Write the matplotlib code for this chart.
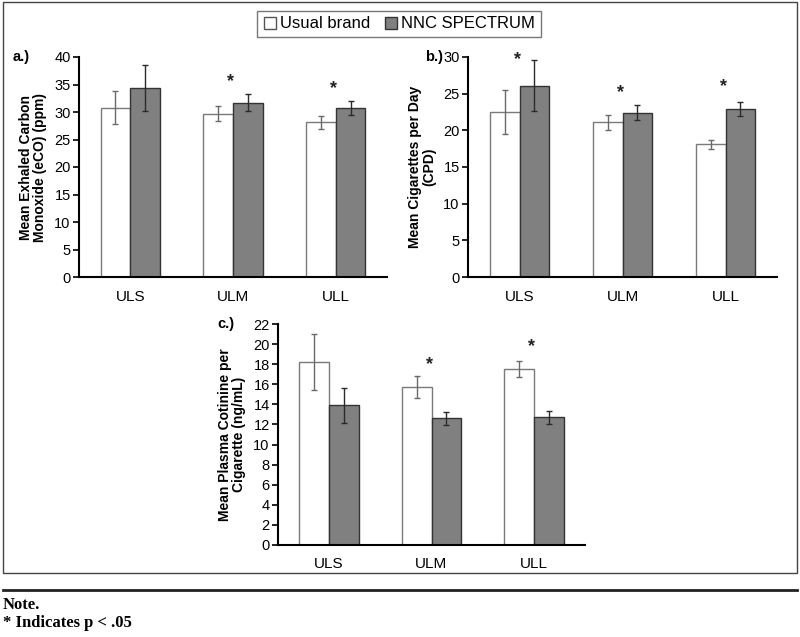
import matplotlib.pyplot as plt
import numpy as np
from matplotlib.patches import Rectangle
from matplotlib.lines import Line2D

plt.rcParams['font.family'] = ['Liberation Sans', 'DejaVu Sans']

groups = ['ULS', 'ULM', 'ULL']
series = ['Usual brand', 'NNC SPECTRUM']

# a.) exhaled carbon monoxide
eco_usual = [30.8, 29.7, 28.1]
eco_usual_err = [3.0, 1.4, 1.1]
eco_nnc = [34.4, 31.7, 30.7]
eco_nnc_err = [4.15, 1.5, 1.25]
eco_stars = [None, 35.6, 34.3]

# b.) cigarettes per day
cpd_usual = [22.5, 21.1, 18.1]
cpd_usual_err = [3.0, 1.0, 0.6]
cpd_nnc = [26.1, 22.4, 22.9]
cpd_nnc_err = [3.5, 1.0, 1.0]
cpd_stars = [29.6, 25.2, 25.9]

# c.) plasma cotinine per cigarette
cot_usual = [18.2, 15.7, 17.5]
cot_usual_err = [2.8, 1.1, 0.8]
cot_nnc = [13.9, 12.6, 12.7]
cot_nnc_err = [1.75, 0.65, 0.65]
cot_stars = [None, 18.0, 19.8]

W, H = 800, 637
fig = plt.figure(figsize=(8, 6.37), dpi=100)


def ax_rect(x0, x1, y0, y1):
    # pixel box -> figure fraction
    return [x0 / W, 1 - y1 / H, (x1 - x0) / W, (y1 - y0) / H]


def draw_panel(ax, usual, usual_err, nnc, nnc_err, stars, ymax, step, ylabel, tag, tag_x):
    x = np.arange(len(groups))
    bw = 0.29
    ax.bar(x - bw / 2, usual, bw, color='white', edgecolor='#7a7a7a', linewidth=1, zorder=2)
    ax.bar(x + bw / 2, nnc, bw, color='#808080', edgecolor='#333333', linewidth=1, zorder=2)
    ax.errorbar(x - bw / 2, usual, yerr=usual_err, fmt='none', ecolor='#6a6a6a',
                elinewidth=1, capsize=2, capthick=1, zorder=3)
    ax.errorbar(x + bw / 2, nnc, yerr=nnc_err, fmt='none', ecolor='#2a2a2a',
                elinewidth=1, capsize=2, capthick=1, zorder=3)
    for xi, s in zip(x, stars):
        if s is not None:
            ax.text(xi - 0.02, s, '*', ha='center', va='center', fontsize=13,
                    fontweight='bold', color='#222222')
    ax.set_xlim(-0.5, 2.5)
    ax.set_ylim(0, ymax)
    ax.set_yticks(np.arange(0, ymax + 0.1, step))
    ax.set_xticks(x)
    ax.set_xticklabels(groups)
    ax.spines['top'].set_visible(False)
    ax.spines['right'].set_visible(False)
    ax.spines['left'].set_linewidth(1.5)
    ax.spines['bottom'].set_linewidth(1.5)
    ax.tick_params(axis='x', length=0, pad=9, labelsize=11)
    ax.tick_params(axis='y', length=4, width=1.2, pad=2, labelsize=10.5)
    ax.set_ylabel(ylabel, fontsize=10, fontweight='bold', linespacing=1.0, labelpad=5)
    ax.text(tag_x, 1.0, tag, transform=ax.transAxes, fontsize=10.5, fontweight='bold',
            ha='right', va='center')


ax_a = fig.add_axes(ax_rect(79, 387, 57, 277))
draw_panel(ax_a, eco_usual, eco_usual_err, eco_nnc, eco_nnc_err, eco_stars, 40, 5,
           'Mean Exhaled Carbon\nMonoxide (eCO) (ppm)', 'a.)', (30 - 79) / 308)

ax_b = fig.add_axes(ax_rect(468, 777, 57, 277))
draw_panel(ax_b, cpd_usual, cpd_usual_err, cpd_nnc, cpd_nnc_err, cpd_stars, 30, 5,
           'Mean Cigarettes per Day\n(CPD)', 'b.)', (443 - 468) / 309)

ax_c = fig.add_axes(ax_rect(278, 585, 324, 545))
draw_panel(ax_c, cot_usual, cot_usual_err, cot_nnc, cot_nnc_err, cot_stars, 22, 2,
           'Mean Plasma Cotinine per\nCigarette (ng/mL)', 'c.)', (235 - 278) / 307)

# shared legend
handles = [Line2D([], [], marker='s', linestyle='none', markersize=9,
                  markerfacecolor='white', markeredgecolor='#555555'),
           Line2D([], [], marker='s', linestyle='none', markersize=9,
                  markerfacecolor='#808080', markeredgecolor='#333333')]
leg = fig.legend(handles, series, loc='center', bbox_to_anchor=(399 / W, 1 - 24 / H),
                 ncol=2, frameon=True, fancybox=False, fontsize=12, handletextpad=0.15,
                 columnspacing=0.8, handlelength=0.9, borderpad=0.35, borderaxespad=0)
leg.get_frame().set_edgecolor('#555555')
leg.get_frame().set_linewidth(1)

# outer border and note
fig.patches.append(Rectangle((3 / W, 1 - 573 / H), 794 / W, 571 / H, transform=fig.transFigure,
                             fill=False, edgecolor='#444444', linewidth=1))
fig.lines.append(Line2D([3 / W, 797 / W], [1 - 590 / H, 1 - 590 / H], transform=fig.transFigure,
                        color='#222222', linewidth=2))
fig.text(3 / W, 1 - 605 / H, 'Note.', family=['Liberation Serif', 'DejaVu Serif'],
         fontweight='bold', fontsize=12, va='center', ha='left')
fig.text(3 / W, 1 - 623 / H, '* Indicates p < .05', family=['Liberation Serif', 'DejaVu Serif'],
         fontweight='bold', fontsize=12, va='center', ha='left')

fig.savefig('out.png', dpi=100)
